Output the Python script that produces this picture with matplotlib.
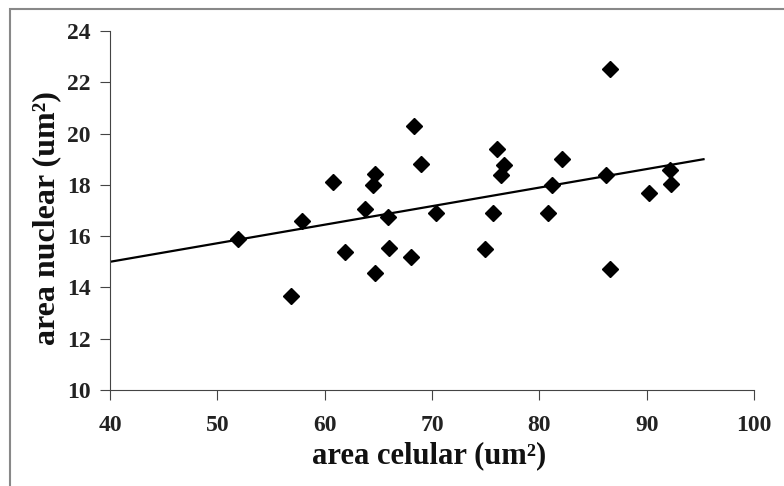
import matplotlib.pyplot as plt
import matplotlib.patches as mpatches

plt.rcParams['font.family'] = ['Liberation Serif', 'DejaVu Serif']
plt.rcParams['font.weight'] = 'bold'

# cell area vs nuclear area
area_celular = [51.9, 56.9, 57.9, 60.8, 61.9, 63.8, 64.7, 64.5, 64.7, 65.9,
                66.0, 68.0, 68.3, 69.0, 70.4, 74.9, 75.7, 76.1, 76.7, 76.4,
                80.8, 81.2, 82.1, 86.2, 86.6, 86.6, 90.2, 92.2, 92.3]
area_nuclear = [15.89, 13.65, 16.61, 18.11, 15.37, 17.07, 18.43, 18.0, 14.56, 16.74,
                15.53, 15.2, 20.28, 18.8, 16.91, 15.5, 16.89, 19.41, 18.79, 18.37,
                16.89, 17.98, 19.02, 18.37, 22.5, 14.72, 17.68, 18.59, 18.04]

# trend line end points
trend_x = [40, 95.3]
trend_y = [15.0, 19.0]

fig = plt.figure(figsize=(7.84, 4.86), dpi=100)
ax = fig.add_axes([0.1403, 0.1975, 0.8214, 0.7387])

ax.plot(trend_x, trend_y, c='k', lw=1.6)
ax.plot(area_celular, area_nuclear, ls='None', marker='D', ms=8, c='k')

ax.set_xlim(40, 100)
ax.set_ylim(10, 24)
ax.set_xticks(range(40, 101, 10))
ax.set_yticks(range(10, 25, 2))

ax.spines['top'].set_visible(False)
ax.spines['right'].set_visible(False)
for s in ['left', 'bottom']:
    ax.spines[s].set_linewidth(0.8)
    ax.spines[s].set_color('#444444')

ax.tick_params(axis='both', direction='out', length=7, width=0.8, labelsize=17, colors='#444444',
               labelcolor='#222222')
ax.tick_params(axis='y', pad=7)
ax.tick_params(axis='x', pad=11)
for lab in ax.get_xticklabels() + ax.get_yticklabels():
    lab.set_fontweight('bold')

ax.set_xlabel('area celular (um²)', fontsize=22, fontweight='bold', color='#111111')
ax.set_ylabel('area nuclear (um²)', fontsize=23, fontweight='bold', color='#111111')
ax.xaxis.set_label_coords(0.496, -0.142)
ax.yaxis.set_label_coords(-0.075, 0.48)

# outer frame like the original chart area
frame = mpatches.Rectangle((10 / 784, -0.1), 1.2, 1 - 9 / 486 + 0.1, transform=fig.transFigure,
                           fill=False, ec='#888888', lw=1.5)
fig.patches.append(frame)

fig.savefig('out.png', dpi=100)
